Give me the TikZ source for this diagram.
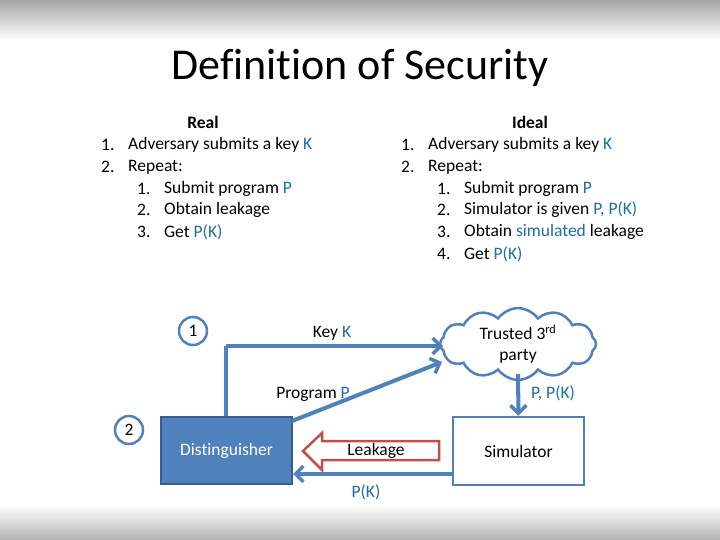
\documentclass[tikz,border=0pt]{standalone}
\usepackage{fontspec}
\setmainfont{Carlito}[RawFeature=-liga]
\usetikzlibrary{shapes.symbols,arrows.meta,shapes.arrows}
\definecolor{accent}{HTML}{4F81BD}
\definecolor{accentdark}{HTML}{385D8A}
\definecolor{keyblue}{HTML}{1F6FA0}
\definecolor{leakred}{HTML}{C0504D}
\tikzset{
  txt/.style={font=\fontsize{17.5}{21}\selectfont, inner sep=0pt},
  item/.style={txt, anchor=west},
  num/.style={txt, anchor=west},
  flow/.style={draw=accent, line width=4pt, -{Straight Barb[length=8pt,width=16pt,line width=3.5pt]}},
  plainflow/.style={draw=accent, line width=4pt},
  stepcircle/.style={circle, draw=accent, line width=2.5pt, minimum size=28pt, inner sep=0pt, font=\fontsize{17.5}{21}\selectfont},
}
\newcommand{\kb}[1]{\textcolor{keyblue}{#1}}
\begin{document}
\begin{tikzpicture}[x=1pt,y={(0pt,-1pt)}]
\useasboundingbox (0,0) rectangle (720,540);
\fill[white] (0,0) rectangle (720,540);
\shade[top color=black!35, bottom color=white] (0,0) rectangle (720,40);
\shade[top color=white, bottom color=black!30] (0,505) rectangle (720,540);

\node[font=\fontsize{44}{50}\selectfont, inner sep=0pt] (title) at (360,68) {Definition of Security};

% Real
\node[txt, font=\fontsize{17.5}{21}\selectfont\bfseries] (real) at (203,122) {Real};
\node[num] (r1n) at (101,145) {1.};
\node[item] (r1) at (128,145) {Adversary submits a key \kb{K}};
\node[num] (r2n) at (101,167) {2.};
\node[item] (r2) at (128,167) {Repeat:};
\node[num] (r21n) at (137,189) {1.};
\node[item] (r21) at (164,189) {Submit program \kb{P}};
\node[num] (r22n) at (137,210) {2.};
\node[item] (r22) at (164,210) {Obtain leakage};
\node[num] (r23n) at (137,232) {3.};
\node[item] (r23) at (164,232) {Get \kb{P(K)}};

% Ideal
\node[txt, font=\fontsize{17.5}{21}\selectfont\bfseries] (ideal) at (530,122) {Ideal};
\node[num] (i1n) at (401,145) {1.};
\node[item] (i1) at (428,145) {Adversary submits a key \kb{K}};
\node[num] (i2n) at (401,167) {2.};
\node[item] (i2) at (428,167) {Repeat:};
\node[num] (i21n) at (437,189) {1.};
\node[item] (i21) at (464,189) {Submit program \kb{P}};
\node[num] (i22n) at (437,210) {2.};
\node[item] (i22) at (464,210) {Simulator is given \kb{P, P(K)}};
\node[num] (i23n) at (437,232) {3.};
\node[item] (i23) at (464,232) {Obtain \kb{simulated} leakage};
\node[num] (i24n) at (437,254) {4.};
\node[item] (i24) at (464,254) {Get \kb{P(K)}};

% diagram
\node[stepcircle] (c1) at (193,331) {1};
\node[stepcircle] (c2) at (129,430) {2};

\node[draw=accentdark, fill=accent, line width=2pt, minimum width=131pt, minimum height=67pt, text=white, font=\fontsize{17.5}{21}\selectfont] (dist) at (226.5,450.5) {Distinguisher};
\node[draw=accent, fill=white, line width=2.5pt, minimum width=131pt, minimum height=68pt, font=\fontsize{17.5}{21}\selectfont] (sim) at (518.5,451) {Simulator};

\node[cloud, cloud puffs=12, cloud puff arc=110, aspect=2.6, draw=accent, line width=2.5pt, fill=white, minimum width=156pt, minimum height=62pt, inner sep=0pt, align=center, font=\fontsize{17.5}{21}\selectfont] (tp) at (518,344) {Trusted 3\textsuperscript{rd}\\party};

\coordinate (kcorner) at (226,346);
\coordinate (kend) at (443,346);
\draw[plainflow] (dist.north -| kcorner) -- (kcorner);
\draw[flow] (kcorner) -- (kend);
\node[txt] (keylbl) at (332,333) {Key \kb{K}};

\coordinate (pstart) at (292,421);
\coordinate (pend) at (442,362);
\draw[flow] (pstart) -- (pend);
\node[txt] (proglbl) at (313,394) {Program \kb{P}};

\coordinate (tpbot) at (518,374);
\draw[flow] (tpbot) -- (sim.north);
\node[txt] (ppk) at (553,393) {\kb{P, P(K)}};

\coordinate (pkstart) at (453,474);
\coordinate (pkend) at (293,474);
\draw[flow] (pkstart) -- (pkend);
\node[txt] (pklbl) at (366,492) {\kb{P(K)}};

\draw[draw=leakred, fill=white, line width=2.5pt] (439,441) -- (322,441) -- (322,433) -- (303,451) -- (322,470) -- (322,460) -- (439,460) -- cycle;
\node[txt] (leak) at (376,451) {Leakage};
\end{tikzpicture}
\end{document}
